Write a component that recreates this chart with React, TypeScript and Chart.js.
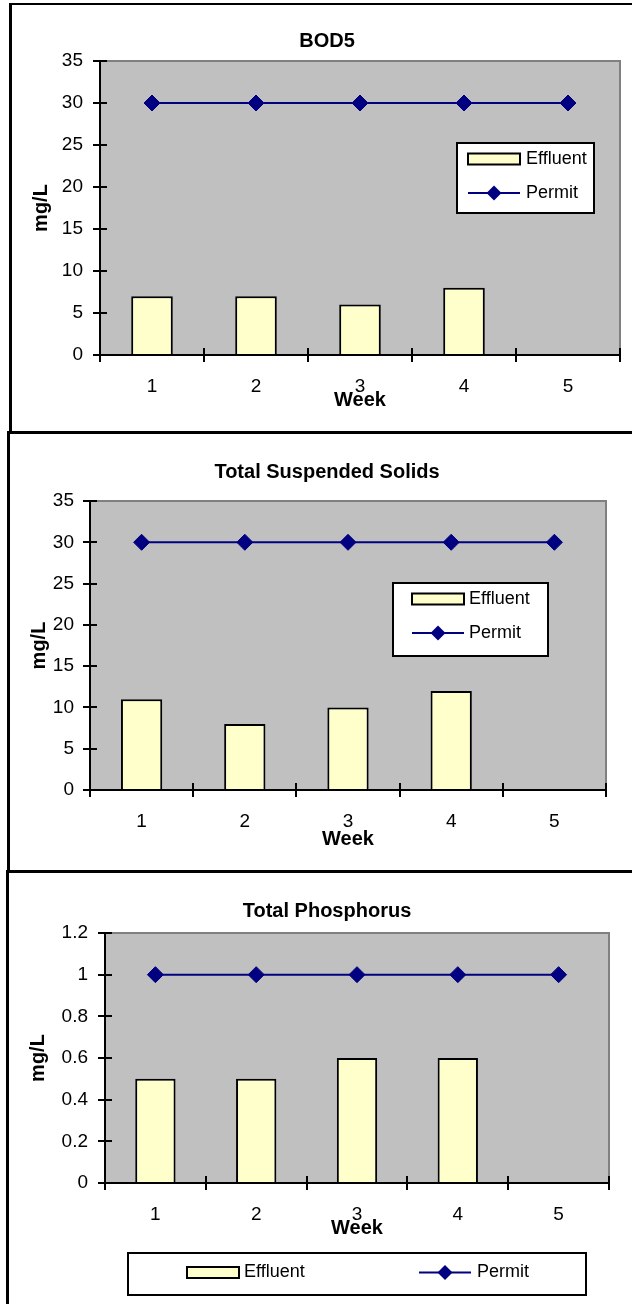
import React, { useEffect, useRef } from 'react';
import { Chart, registerables } from 'chart.js';

Chart.register(...registerables);

// ---------- data ----------
const weeks = ['1', '2', '3', '4', '5'];
const seriesNames = ['Effluent', 'Permit'];
const chartTitles = ['BOD5', 'Total Suspended Solids', 'Total Phosphorus'];
const xAxisTitle = 'Week';
const yAxisTitle = 'mg/L';

const bodEffluent = [7, 7, 6, 8, null];
const bodPermit = [30, 30, 30, 30, 30];
const tssEffluent = [11, 8, 10, 12, null];
const tssPermit = [30, 30, 30, 30, 30];
const tpEffluent = [0.5, 0.5, 0.6, 0.6, null];
const tpPermit = [1, 1, 1, 1, 1];

const mgTickLabels = ['0', '5', '10', '15', '20', '25', '30', '35'];
const tpTickLabels = ['0', '0.2', '0.4', '0.6', '0.8', '1', '1.2'];

// ---------- styles ----------
const FONT = "'Liberation Sans', Arial, sans-serif";
const BAR_FILL = '#FFFFCC';
const LINE_COLOR = '#000080';
const PLOT_BG = '#C0C0C0';
const PLOT_EDGE = '#808080';

const decorPlugin = {
  id: 'decor',
  beforeDraw(chart: any) {
    const { ctx, chartArea: a } = chart;
    ctx.save();
    ctx.fillStyle = PLOT_BG;
    ctx.fillRect(a.left, a.top, a.right - a.left, a.bottom - a.top);
    ctx.strokeStyle = PLOT_EDGE;
    ctx.lineWidth = 2;
    ctx.beginPath();
    ctx.moveTo(a.left, a.top);
    ctx.lineTo(a.right, a.top);
    ctx.lineTo(a.right, a.bottom);
    ctx.stroke();
    ctx.restore();
  },
  afterDatasetsDraw(chart: any) {
    const { ctx, chartArea: a, scales } = chart;
    const x = scales.x;
    const y = scales.y;
    ctx.save();
    ctx.strokeStyle = '#000';
    ctx.lineWidth = 2;
    ctx.beginPath();
    ctx.moveTo(a.left, a.top - 1);
    ctx.lineTo(a.left, a.bottom);
    ctx.lineTo(a.right, a.bottom);
    ctx.stroke();

    ctx.lineWidth = 2;
    ctx.beginPath();
    y.ticks.forEach((t: any) => {
      const py = Math.round(y.getPixelForValue(t.value));
      ctx.moveTo(a.left - 7, py);
      ctx.lineTo(a.left + 7, py);
    });
    const n = x.ticks.length;
    const half = (x.getPixelForValue(1) - x.getPixelForValue(0)) / 2;
    for (let i = 0; i <= n; i++) {
      const px = Math.round(i < n ? x.getPixelForValue(i) - half : x.getPixelForValue(n - 1) + half);
      ctx.moveTo(px, a.bottom - 7);
      ctx.lineTo(px, a.bottom + 7);
    }
    ctx.stroke();
    ctx.restore();
  },
  afterDraw(chart: any, _args: any, opts: any) {
    const { ctx } = chart;
    ctx.save();
    // chart title
    ctx.fillStyle = '#000';
    ctx.font = `bold 20px ${FONT}`;
    ctx.textAlign = 'center';
    ctx.textBaseline = 'middle';
    ctx.fillText(opts.title, opts.titleX, opts.titleY);

    // legend
    const lg = opts.legend;
    const [bl, bt, bw, bh] = lg.box;
    ctx.fillStyle = '#fff';
    ctx.fillRect(bl, bt, bw, bh);
    ctx.strokeStyle = '#000';
    ctx.lineWidth = 2;
    ctx.strokeRect(bl, bt, bw, bh);
    chart.data.datasets.forEach((ds: any, i: number) => {
      const [mx, cy, tx] = lg.entries[i];
      if (ds.type === 'bar') {
        ctx.fillStyle = ds.backgroundColor;
        ctx.fillRect(mx, cy - 5.5, 52, 11);
        ctx.strokeStyle = '#000';
        ctx.lineWidth = 2;
        ctx.strokeRect(mx, cy - 5.5, 52, 11);
      } else {
        ctx.strokeStyle = ds.borderColor;
        ctx.lineWidth = 2;
        ctx.beginPath();
        ctx.moveTo(mx, cy);
        ctx.lineTo(mx + 52, cy);
        ctx.stroke();
        const r = 7.5;
        const cx = mx + 26;
        ctx.fillStyle = ds.borderColor;
        ctx.beginPath();
        ctx.moveTo(cx - r, cy);
        ctx.lineTo(cx, cy - r);
        ctx.lineTo(cx + r, cy);
        ctx.lineTo(cx, cy + r);
        ctx.closePath();
        ctx.fill();
      }
      ctx.fillStyle = '#000';
      ctx.font = `18px ${FONT}`;
      ctx.textAlign = 'left';
      ctx.textBaseline = 'middle';
      ctx.fillText(ds.label, tx, cy);
    });
    ctx.restore();
  },
};

type PanelCfg = {
  top: number;
  height: number;
  title: string;
  effluent: (number | null)[];
  permit: number[];
  yMax: number;
  yStep: number;
  yLabels: string[];
  padding: { left: number; right: number; top: number; bottom: number };
  yWidth: number;
  xHeight: number;
  yTickPad: number;
  xTickPad: number;
  xTitlePad: number;
  yTitlePad: number;
  titleY: number;
  legend: { box: number[]; entries: number[][] };
};

const panels: PanelCfg[] = [
  {
    top: 0,
    height: 430,
    title: chartTitles[0],
    effluent: bodEffluent,
    permit: bodPermit,
    yMax: 35,
    yStep: 5,
    yLabels: mgTickLabels,
    padding: { left: 0, right: 12, top: 61, bottom: 0 },
    yWidth: 100,
    xHeight: 75,
    yTickPad: 17,
    xTickPad: 20,
    xTitlePad: 17.5,
    yTitlePad: 29.5,
    titleY: 41.5,
    legend: { box: [457, 143, 137, 70], entries: [[468, 159, 526], [468, 193, 526]] },
  },
  {
    top: 430,
    height: 440,
    title: chartTitles[1],
    effluent: tssEffluent,
    permit: tssPermit,
    yMax: 35,
    yStep: 5,
    yLabels: mgTickLabels,
    padding: { left: 0, right: 26, top: 71, bottom: 0 },
    yWidth: 90,
    xHeight: 80,
    yTickPad: 16,
    xTickPad: 20,
    xTitlePad: 19,
    yTitlePad: 27,
    titleY: 42,
    legend: { box: [393, 153, 155, 73], entries: [[412, 169, 469], [412, 203, 469]] },
  },
  {
    top: 870,
    height: 434,
    title: chartTitles[2],
    effluent: tpEffluent,
    permit: tpPermit,
    yMax: 1.2,
    yStep: 0.2,
    yLabels: tpTickLabels,
    padding: { left: 0, right: 23, top: 63, bottom: 61 },
    yWidth: 105,
    xHeight: 60,
    yTickPad: 17,
    xTickPad: 20,
    xTitlePad: 3,
    yTitlePad: 26,
    titleY: 41,
    legend: { box: [128, 383, 458, 42], entries: [[187, 402.5, 244], [419, 402.5, 477]] },
  },
];

function buildConfig(p: PanelCfg): any {
  const tickFont = { family: FONT, size: 19, lineHeight: 1.2 };
  const titleFont = { family: FONT, size: 20, weight: 'bold', lineHeight: 1.2 };
  return {
    type: 'bar',
    data: {
      labels: weeks,
      datasets: [
        {
          type: 'bar',
          label: seriesNames[0],
          data: p.effluent,
          backgroundColor: BAR_FILL,
          borderColor: '#000',
          borderWidth: 2,
          barPercentage: 0.4,
          categoryPercentage: 1,
        },
        {
          type: 'line',
          label: seriesNames[1],
          data: p.permit,
          borderColor: LINE_COLOR,
          backgroundColor: LINE_COLOR,
          borderWidth: 2,
          pointStyle: 'rectRot',
          pointRadius: 8,
          pointBorderWidth: 1,
          pointBackgroundColor: LINE_COLOR,
          pointBorderColor: LINE_COLOR,
          fill: false,
          tension: 0,
        },
      ],
    },
    options: {
      responsive: false,
      animation: false,
      devicePixelRatio: 1,
      events: [],
      layout: { padding: p.padding },
      plugins: {
        legend: { display: false },
        title: { display: false },
        tooltip: { enabled: false },
        decor: { title: p.title, titleX: 327, titleY: p.titleY, legend: p.legend },
      },
      scales: {
        x: {
          offset: true,
          grid: { display: false, drawTicks: false, tickLength: 0 },
          border: { display: false },
          ticks: { padding: p.xTickPad, font: tickFont, color: '#000', maxRotation: 0, autoSkip: false },
          title: {
            display: true,
            text: xAxisTitle,
            font: titleFont,
            color: '#000',
            padding: { top: 0, bottom: p.xTitlePad },
          },
          afterFit: (s: any) => {
            s.height = p.xHeight;
          },
        },
        y: {
          min: 0,
          max: p.yMax,
          grid: { display: false, drawTicks: false, tickLength: 0 },
          border: { display: false },
          ticks: {
            stepSize: p.yStep,
            padding: p.yTickPad,
            font: tickFont,
            color: '#000',
            callback: (_v: any, i: number) => p.yLabels[i],
          },
          title: {
            display: true,
            text: yAxisTitle,
            font: titleFont,
            color: '#000',
            padding: { top: p.yTitlePad, bottom: 0 },
          },
          afterFit: (s: any) => {
            s.width = p.yWidth;
          },
        },
      },
    },
    plugins: [decorPlugin],
  };
}

function Panel({ p }: { p: PanelCfg }) {
  const ref = useRef<HTMLCanvasElement>(null);
  useEffect(() => {
    if (!ref.current) return;
    const chart = new Chart(ref.current, buildConfig(p));
    return () => chart.destroy();
  }, [p]);
  return (
    <canvas
      ref={ref}
      width={632}
      height={p.height}
      style={{ position: 'absolute', left: 0, top: p.top, width: 632, height: p.height, display: 'block' }}
    />
  );
}

const line = (left: number, top: number, width: number, height: number) => (
  <div style={{ position: 'absolute', left, top, width, height, background: '#000' }} />
);

export default function App() {
  return (
    <div style={{ position: 'absolute', left: 0, top: 0, width: 632, height: 1304, background: '#fff', overflow: 'hidden' }}>
      {panels.map((p, i) => (
        <Panel key={i} p={p} />
      ))}
      {line(9, 3, 623, 2)}
      {line(9, 3, 3, 429)}
      {line(7, 431, 625, 3)}
      {line(7, 431, 3, 441)}
      {line(6, 870, 626, 3)}
      {line(6, 870, 3, 434)}
    </div>
  );
}
